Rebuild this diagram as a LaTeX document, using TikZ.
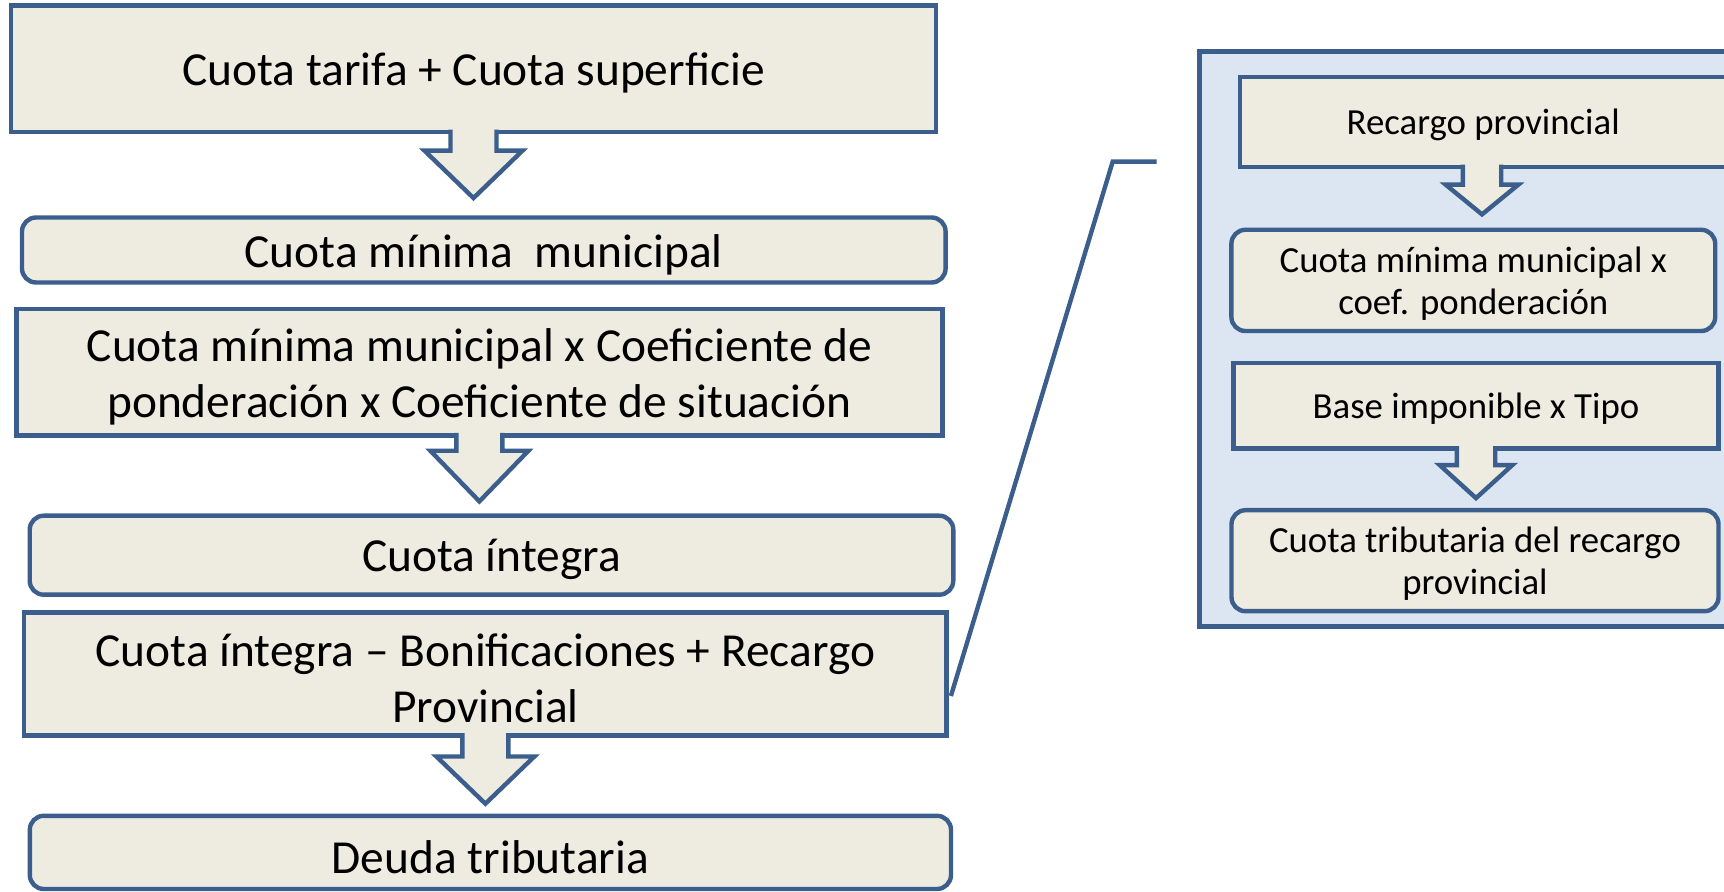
\documentclass[tikz,border=0pt]{standalone}
\usepackage{fontspec}
\setmainfont{Carlito}
\usetikzlibrary{calc}
\definecolor{bordc}{HTML}{3B5E8C}
\definecolor{boxf}{HTML}{EEECE1}
\definecolor{panelf}{HTML}{DCE6F2}
\tikzset{
  base/.style={draw=bordc, fill=boxf, line width=2.2pt, outer sep=0pt, inner sep=0pt},
  sqbox/.style={base},
  rdbox/.style={base, rounded corners=7pt},
  bigtxt/.style={font=\fontsize{23.7}{28}\selectfont, align=center, inner sep=0pt, yshift=-2.2pt},
  smtxt/.style={font=\fontsize{18.4}{21}\selectfont, align=center, inner sep=0pt, yshift=-1.6pt},
  arr/.style={draw=bordc, fill=boxf, line width=2.2pt, line join=miter},
  panel/.style={draw=bordc, fill=panelf, line width=2.2pt},
  callout/.style={draw=bordc, line width=2.2pt}
}
\newcommand\blockarrow[5]{%
  \path[arr] ($(#1.south)+(-#2,-2.5)$) -- ++(0,#4+2.5) -- ++(-#3+#2,0) -- ++(#3,#5) -- ++(#3,-#5) -- ++(-#3+#2,0) -- ++(0,-#4-2.5);
}
\begin{document}
\begin{tikzpicture}[x=0.5pt,y=-0.5pt]
\useasboundingbox (0,0) rectangle (1724,892);
\clip (0,0) rectangle (1724,892);
% right panel
\node[panel, minimum width=275pt, minimum height=287.5pt, anchor=north west, inner sep=0pt, outer sep=0pt] (panel) at (1199.6,51.7) {};
% left column
\node[sqbox, minimum width=462.5pt, minimum height=63.25pt,
  label={[bigtxt]center:Cuota tarifa + Cuota superficie}] (b1) at (473.5,68.8) {};
\node[rdbox, minimum width=461.8pt, minimum height=32.5pt,
  label={[bigtxt]center:Cuota mínima\ \ municipal}] (b2) at (483.8,250) {};
\node[sqbox, minimum width=462.9pt, minimum height=63.2pt,
  label={[bigtxt]center:Cuota mínima municipal x Coeficiente de\\ponderación x Coeficiente de situación}] (b3) at (479.4,372.2) {};
\node[rdbox, minimum width=461.8pt, minimum height=39.5pt,
  label={[bigtxt]center:Cuota íntegra}] (b4) at (491.5,555.2) {};
\node[sqbox, minimum width=461.2pt, minimum height=61.6pt,
  label={[bigtxt]center:Cuota íntegra – Bonificaciones + Recargo\\Provincial}] (b5) at (485.4,674) {};
\node[rdbox, minimum width=460.6pt, minimum height=36.6pt,
  label={[bigtxt]center:Deuda tributaria}] (b6) at (490.4,852.4) {};
% right column
\node[sqbox, minimum width=255pt, minimum height=45pt, anchor=west,
  label={[smtxt, xshift=-6pt]center:Recargo provincial}] (r1) at (1240.2,122) {};
\node[rdbox, minimum width=241.9pt, minimum height=50.6pt,
  label={[smtxt]center:Cuota mínima municipal x\\coef. ponderación}] (r2) at (1473.3,280.4) {};
\node[sqbox, minimum width=242.4pt, minimum height=42.9pt,
  label={[smtxt]center:Base imponible x Tipo}] (r3) at (1476,405.7) {};
\node[rdbox, minimum width=243.5pt, minimum height=50.5pt,
  label={[smtxt]center:Cuota tributaria del recargo\\provincial}] (r4) at (1475,560.7) {};
% block arrows
\blockarrow{b1}{23}{49}{18.6}{47.4}
\blockarrow{b3}{23}{49}{15.4}{50.6}
\blockarrow{b5}{23}{49}{20.9}{47.2}
\coordinate (r1s) at (1482,167.1);
\path[arr] ($(r1s)+(-19.2,-2.5)$) -- ++(0,20.1) -- ++(-17.1,0) -- ++(36.3,29.7) -- ++(36.3,-29.7) -- ++(-17.1,0) -- ++(0,-20.1);
\blockarrow{r3}{19.2}{36.3}{16.5}{33}
% callout
\coordinate (c1) at ($(b5.south east)+(4.3,-39.6)$);
\coordinate (c2) at (1112.7,161.6);
\coordinate (c3) at (1156.7,161.6);
\draw[callout] (c1) -- (c2) -- (c3);
\end{tikzpicture}
\end{document}
